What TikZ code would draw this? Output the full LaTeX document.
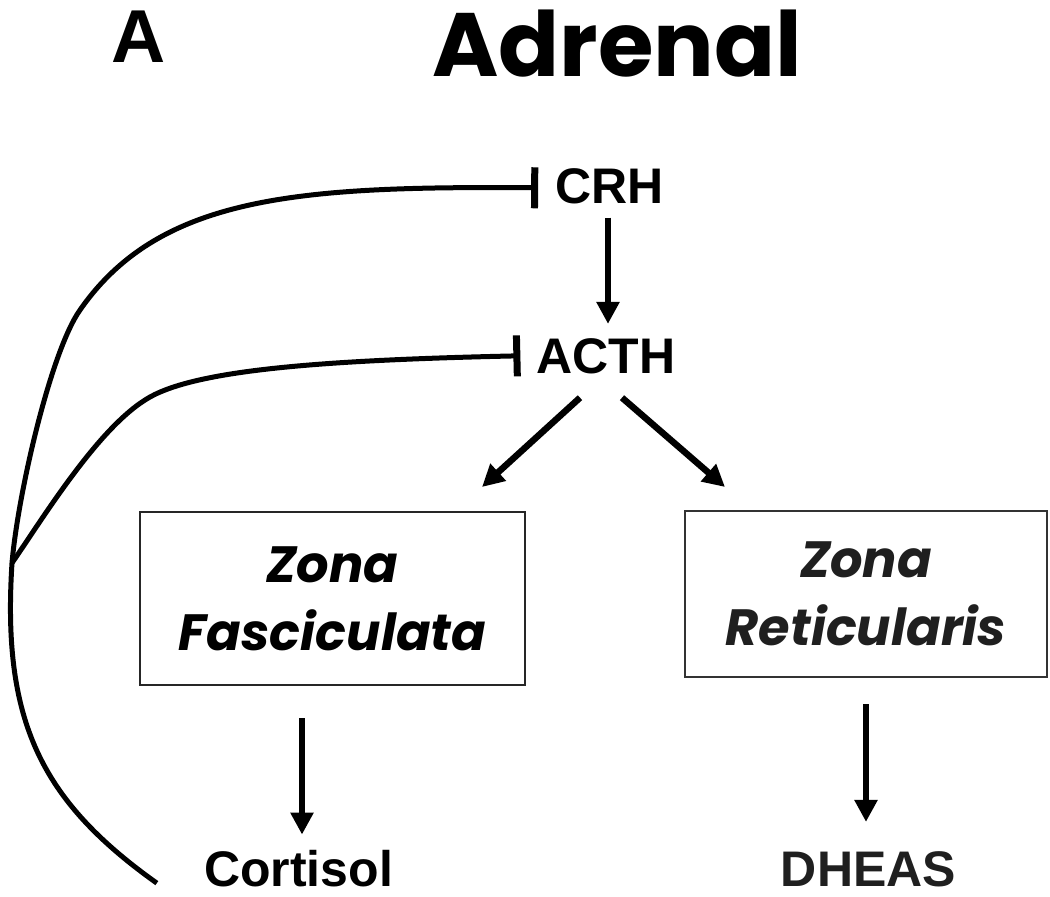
\documentclass[tikz,border=0pt]{standalone}
\usepackage{fontspec}
\setmainfont{Liberation Sans}
\newfontfamily\comic{Poppins}
\usetikzlibrary{arrows.meta,calc}
\tikzset{
  lbl/.style={font=\fontsize{50}{60}\selectfont\bfseries, inner sep=0pt, anchor=base},
  zone/.style={draw=black!85, line width=2pt, align=center, inner sep=0pt,
    font=\comic\bfseries\itshape\fontsize{51}{68}\selectfont},
  arr/.style={line width=6.5pt, -{Triangle[width=22pt,length=22pt]}},
  fb/.style={line width=5pt},
  inh/.style={-{Bar[width=41pt,line width=7pt]}},
}
\begin{document}
\begin{tikzpicture}[x=1pt,y=-1pt]
\useasboundingbox (0,0) rectangle (1050,897);
% titles
\node[inner sep=0pt, anchor=base, font=\fontsize{75}{80}\selectfont\bfseries] (labA) at (139,62) {A};
\node[inner sep=0pt, anchor=base, font=\comic\bfseries\fontsize{90}{100}\selectfont] (title) at (617,76) {Adrenal};
% hormones
\node[lbl] (crh) at (609.5,203) {CRH};
\node[lbl] (acth) at (606,373) {ACTH};
\node[lbl] (cortisol) at (298.5,886) {Cortisol};
\node[lbl, text=black!88] (dheas) at (868.5,886) {DHEAS};
% zones
\node[zone, minimum width=385pt, minimum height=173pt] (zf) at (332.5,598.5) {Zona\\Fasciculata};
\node[zone, draw=black!80, text=black!88, minimum width=362pt, minimum height=166pt] (zr) at (866,594) {Zona\\Reticularis};
% arrows
\draw[arr] ($(crh.south)+(-1.5,14)$) -- ($(crh.south |- acth.north)+(-1.5,-14)$);
\draw[arr] ($(acth.south)+(-26,24)$) -- ($(zf.north east)+(-44,-24)$);
\draw[arr] ($(acth.south)+(16,24)$) -- ($(zr.north west)+(41,-23)$);
\draw[arr] ($(zf.south)+(-30.5,32)$) -- ($(cortisol.north)+(3.5,-15)$);
\draw[arr] ($(zr.south)+(0,26)$) -- ($(dheas.north)+(-2.5,-29)$);
% feedback curves
\coordinate (crhbar) at ($(crh.west)+(-17,2)$);
\coordinate (actbar) at ($(acth.west)+(-16,0)$);
\coordinate (junc) at (12,563);
\coordinate (k1) at (80,310);
\coordinate (k2) at (150,397);
\coordinate (cend) at ($(cortisol.west)+(-47,15)$);
\draw[fb, inh] (cend) .. controls (40,800) and (2,720) .. (junc)
  .. controls (18,493) and (51,351) .. (k1)
  .. controls (160,195) and (300,186) .. (crhbar);
\draw[fb, inh] (junc) .. controls (45,515) and (100,425) .. (k2)
  .. controls (200,369) and (330,360) .. (actbar);
\end{tikzpicture}
\end{document}
